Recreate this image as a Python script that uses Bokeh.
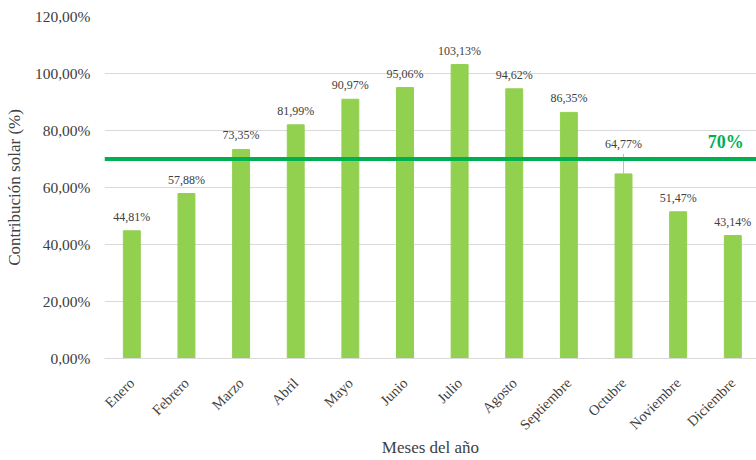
import math
from bokeh.plotting import figure
from bokeh.models import ColumnDataSource, Range1d, FixedTicker, Span, Label
from bokeh.embed import file_html
from bokeh.resources import INLINE
from bokeh.core.properties import value

months = ["Enero", "Febrero", "Marzo", "Abril", "Mayo", "Junio", "Julio",
          "Agosto", "Septiembre", "Octubre", "Noviembre", "Diciembre"]
contrib = [44.81, 57.88, 73.35, 81.99, 90.97, 95.06, 103.13, 94.62, 86.35, 64.77, 51.47, 43.14]
y_ticks = [0, 20, 40, 60, 80, 100, 120]
target = 70
target_label = "70%"
x_title = "Meses del año"
y_title = "Contribución solar (%)"
label_lift = [0, 0, 0, 0, 0, 0, 0, 0, 0, 16, 0, 0]

FONT = "Liberation Serif"
TXT = "#404040"

def pct(v):
    return f"{v:.2f}".replace(".", ",") + "%"

xs = list(range(len(months)))
src = ColumnDataSource(dict(
    x=xs, y=contrib, lab=[pct(v) for v in contrib],
    yoff=[-(7 + l) for l in label_lift],
))

p = figure(width=756, height=460, output_backend="svg", toolbar_location=None,
           x_range=Range1d(-0.5, 11.434), y_range=Range1d(0, 120),
           min_border_left=104, min_border_right=0, min_border_top=16, min_border_bottom=102)
p.outline_line_color = None
p.background_fill_color = "white"

p.vbar(x="x", top="y", width=0.31, source=src, color="#92D050", line_color="#92D050")

# leader lines for lifted labels
px_per_unit = 342 / 120
lx = [x for x, l in zip(xs, label_lift) if l > 0]
ly0 = [v for v, l in zip(contrib, label_lift) if l > 0]
ly1 = [v + (l + 4) / px_per_unit for v, l in zip(contrib, label_lift) if l > 0]
p.segment(x0=lx, y0=ly0, x1=lx, y1=ly1, line_color="#BFBFBF", line_width=1)

p.text(x="x", y="y", text="lab", source=src, y_offset="yoff",
       text_align="center", text_baseline="bottom",
       text_font=value(FONT), text_font_size="12px", text_color=TXT)

p.add_layout(Span(location=target, dimension="width", line_color="#00B050", line_width=4))
p.add_layout(Label(x=10.87, y=target, y_offset=7, text=target_label,
                   text_align="center", text_baseline="bottom",
                   text_font=FONT, text_font_size="18px", text_font_style="bold",
                   text_color="#00B050"))

# axes
p.yaxis.ticker = FixedTicker(ticks=y_ticks)
p.yaxis.major_label_overrides = {t: pct(t) for t in y_ticks}
p.yaxis.axis_line_color = None
p.yaxis.major_tick_line_color = None
p.yaxis.major_tick_out = 0
p.yaxis.major_tick_in = 0
p.yaxis.minor_tick_line_color = None
p.yaxis.minor_tick_out = 0
p.yaxis.major_label_standoff = 14
p.yaxis.major_label_text_font = FONT
p.yaxis.major_label_text_font_size = "15.5px"
p.yaxis.major_label_text_color = TXT
p.yaxis.axis_label = y_title
p.yaxis.axis_label_text_font = FONT
p.yaxis.axis_label_text_font_size = "17px"
p.yaxis.axis_label_text_font_style = "normal"
p.yaxis.axis_label_text_color = TXT
p.yaxis.axis_label_standoff = 8

p.xaxis.ticker = FixedTicker(ticks=xs)
p.xaxis.major_label_overrides = {i: m for i, m in zip(xs, months)}
p.xaxis.major_label_orientation = math.pi / 4
p.xaxis.axis_line_color = "#D9D9D9"
p.xaxis.major_tick_line_color = None
p.xaxis.major_tick_out = 0
p.xaxis.major_tick_in = 0
p.xaxis.minor_tick_line_color = None
p.xaxis.minor_tick_out = 0
p.xaxis.major_label_standoff = 22
p.xaxis.major_label_text_font = FONT
p.xaxis.major_label_text_font_size = "14.5px"
p.xaxis.major_label_text_color = TXT
p.xaxis.axis_label = x_title
p.xaxis.axis_label_text_font = FONT
p.xaxis.axis_label_text_font_size = "17px"
p.xaxis.axis_label_text_font_style = "normal"
p.xaxis.axis_label_text_color = TXT
p.xaxis.axis_label_standoff = -4

p.xgrid.grid_line_color = None
p.ygrid.grid_line_color = "#D9D9D9"
p.ygrid.grid_line_width = 1

open("out.html", "w").write(file_html(p, INLINE))
